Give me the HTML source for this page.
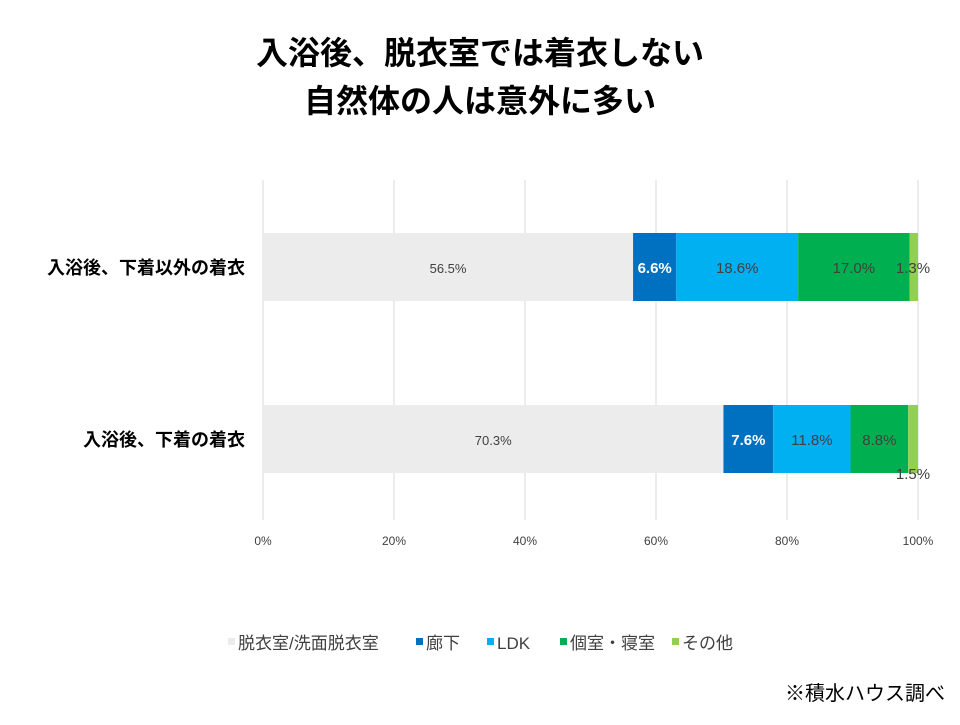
<!DOCTYPE html>
<html><head><meta charset="utf-8"><style>
body{margin:0;background:#fff;width:960px;height:720px;overflow:hidden;font-family:"Liberation Sans","Noto Sans CJK JP",sans-serif}
</style></head><body>
<svg width="960" height="720" xmlns="http://www.w3.org/2000/svg" font-family="Liberation Sans, Noto Sans CJK JP, sans-serif">
<text x="480" y="64" text-anchor="middle" font-size="32" font-weight="bold" fill="#000">入浴後、脱衣室では着衣しない</text>
<text x="480" y="112" text-anchor="middle" font-size="32" font-weight="bold" fill="#000">自然体の人は意外に多い</text>
<g id="grid"></g><g id="bars"></g><g id="labels"></g><g id="ticks"></g>
<g id="legend"></g>
<text x="945" y="700" text-anchor="end" font-size="20" fill="#000">※積水ハウス調べ</text>
</svg>
<script>
const categories=["入浴後、下着以外の着衣","入浴後、下着の着衣"];
const seriesNames=["脱衣室/洗面脱衣室","廊下","LDK","個室・寝室","その他"];
const s1=[56.5,70.3];
const s2=[6.6,7.6];
const s3=[18.6,11.8];
const s4=[17.0,8.8];
const s5=[1.3,1.5];
const tickLabels=["0%","20%","40%","60%","80%","100%"];
const tickValues=[0,20,40,60,80,100];
const series=[s1,s2,s3,s4,s5];
const colors=["#ececec","#0070c0","#00b0f0","#00b050","#92d050"];
const labelColors=["#404040","#ffffff","#404040","#404040","#404040"];
const NS="http://www.w3.org/2000/svg";
const x0=263,x1=918,yTop=180,yBot=520;
const xs=v=>x0+(x1-x0)*v/100;
const rowY=[233,405],barH=68;
function mk(tag,attrs,parent){const e=document.createElementNS(NS,tag);for(const k in attrs)e.setAttribute(k,attrs[k]);document.getElementById(parent).appendChild(e);return e;}
tickValues.forEach((v,i)=>{
 const l=mk("line",{x1:xs(v),x2:xs(v),y1:yTop,y2:yBot,stroke:"#d9d9d9","stroke-width":1},"grid");
 
 
 const t=mk("text",{x:xs(v),y:545,"text-anchor":"middle","font-size":12,fill:"#404040"},"ticks");
 t.textContent=tickLabels[i];
 
 
});
categories.forEach((c,ci)=>{
 const t=mk("text",{x:245,y:rowY[ci]+barH/2+7,"text-anchor":"end","font-size":18,"font-weight":"bold",fill:"#000"},"labels");
 t.textContent=c;
 
 
 let acc=0;
 series.forEach((s,si)=>{
  const v=s[ci];
  const r=mk("rect",{x:xs(acc),y:rowY[ci],width:xs(acc+v)-xs(acc),height:barH,fill:colors[si]},"bars");
  
  
  let lx=xs(acc+v/2),ly=rowY[ci]+barH/2+6;
  if(si===4){lx=xs(acc+v)-5; if(ci===1){ly=rowY[ci]+barH+6;}}
  const lt=mk("text",{x:lx,y:ly,"text-anchor":"middle","font-size":si===0?13:15,"font-weight":si===1?"bold":"normal",fill:labelColors[si]},"labels");
  lt.textContent=v.toFixed(1)+"%";
  
  
  acc+=v;
 });
});
const legX=[228,416,487,560,672];
seriesNames.forEach((n,i)=>{
 const r=mk("rect",{x:legX[i],y:638,width:7,height:7,fill:colors[i]},"legend");
 
 
 const t=mk("text",{x:legX[i]+10,y:649,"font-size":17,fill:"#404040"},"legend");
 t.textContent=n;
 
 
});
</script>
</body></html>
